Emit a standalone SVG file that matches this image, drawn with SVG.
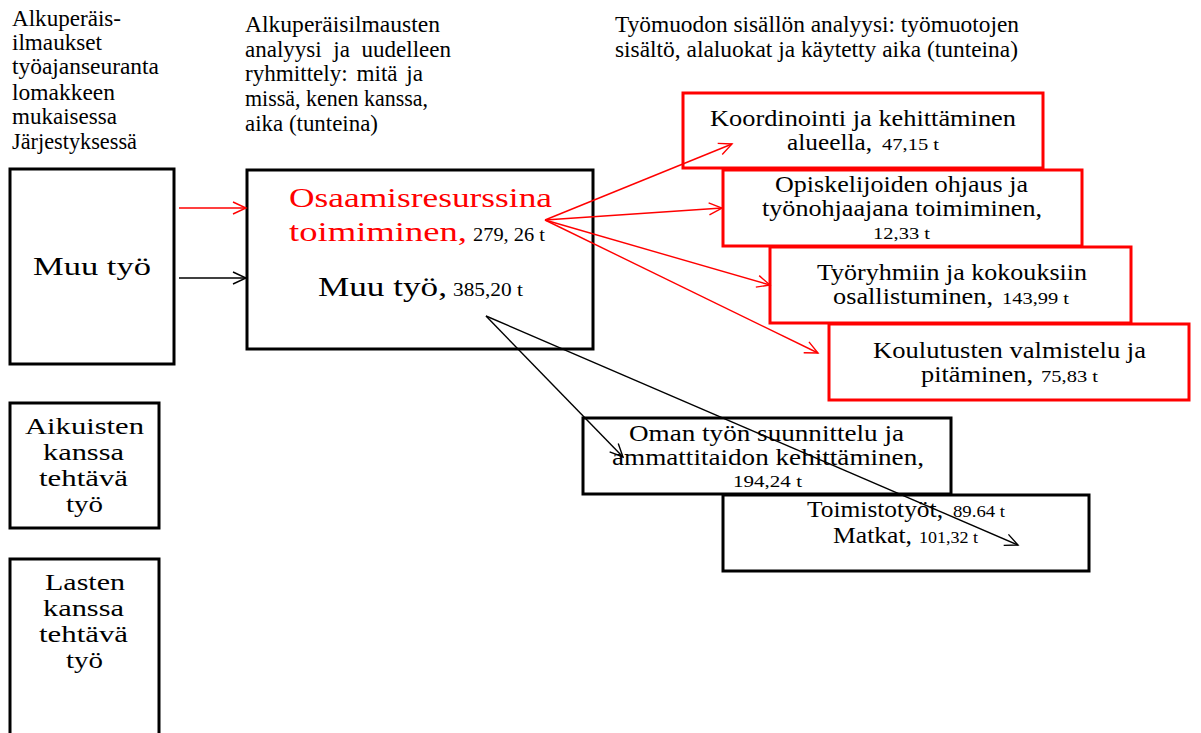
<svg xmlns="http://www.w3.org/2000/svg" width="1201" height="733" viewBox="0 0 1201 733">
  <style>
    text { font-family: "Liberation Serif", "Times New Roman", serif; fill: #000; }
    .hd { font-size: 23.5px; }
    .bx { font-size: 22.5px; }
    .lt { font-size: 22.5px; }
    .num { font-size: 17.5px; }
    .red { fill: #ff0000; }
    .nb { fill: #fff; stroke: #000; stroke-width: 3; }
    .nr { fill: #fff; stroke: #ff0000; stroke-width: 3; }
    .cr { stroke: #ff0000; stroke-width: 1.4; fill: none; marker-end: url(#ahr); }
    .ck { stroke: #000; stroke-width: 1.4; fill: none; marker-end: url(#ahk); }
  </style>
  <defs>
    <marker id="ahr" markerUnits="userSpaceOnUse" markerWidth="16" markerHeight="16" viewBox="-14 -8 16 16" refX="0" refY="0" orient="auto">
      <path d="M-13,-6 L0,0 L-13,6" fill="none" stroke="#ff0000" stroke-width="1.4"/>
    </marker>
    <marker id="ahk" markerUnits="userSpaceOnUse" markerWidth="16" markerHeight="16" viewBox="-14 -8 16 16" refX="0" refY="0" orient="auto">
      <path d="M-13,-6 L0,0 L-13,6" fill="none" stroke="#000" stroke-width="1.4"/>
    </marker>
  </defs>
  <rect width="1201" height="733" fill="#fff"/>

  <!-- column headings -->
  <g id="heading-original">
    <text class="hd" x="12" y="26" textLength="109" lengthAdjust="spacingAndGlyphs">Alkuperäis-</text>
    <text class="hd" x="12" y="50" textLength="90" lengthAdjust="spacingAndGlyphs">ilmaukset</text>
    <text class="hd" x="12" y="74" textLength="147" lengthAdjust="spacingAndGlyphs">työajanseuranta</text>
    <text class="hd" x="12" y="100" textLength="103" lengthAdjust="spacingAndGlyphs">lomakkeen</text>
    <text class="hd" x="12" y="124" textLength="105" lengthAdjust="spacingAndGlyphs">mukaisessa</text>
    <text class="hd" x="12" y="149" textLength="125" lengthAdjust="spacingAndGlyphs">Järjestyksessä</text>
  </g>
  <g id="heading-analysis">
    <text class="hd" x="245" y="32" textLength="195" lengthAdjust="spacingAndGlyphs">Alkuperäisilmausten</text>
    <text class="hd" x="245" y="57" textLength="206" lengthAdjust="spacingAndGlyphs" word-spacing="6">analyysi ja uudelleen</text>
    <text class="hd" x="245" y="81" textLength="178" lengthAdjust="spacingAndGlyphs" word-spacing="3">ryhmittely: mitä ja</text>
    <text class="hd" x="245" y="106" textLength="183" lengthAdjust="spacingAndGlyphs">missä, kenen kanssa,</text>
    <text class="hd" x="245" y="131" textLength="133" lengthAdjust="spacingAndGlyphs">aika (tunteina)</text>
  </g>
  <g id="heading-content">
    <text class="hd" x="615" y="32" textLength="404" lengthAdjust="spacingAndGlyphs">Työmuodon sisällön analyysi: työmuotojen</text>
    <text class="hd" x="615" y="57" textLength="403" lengthAdjust="spacingAndGlyphs">sisältö, alaluokat  ja käytetty aika (tunteina)</text>
  </g>

  <!-- original categories -->
  <g id="node-muu-tyo">
    <rect class="nb" x="10" y="169" width="164" height="195"/>
    <text x="33" y="275" font-size="25" textLength="118" lengthAdjust="spacingAndGlyphs">Muu työ</text>
  </g>
  <g id="node-aikuisten">
    <rect class="nb" x="10" y="403" width="149" height="125"/>
    <text class="lt" x="25" y="434" textLength="119" lengthAdjust="spacingAndGlyphs">Aikuisten</text>
    <text class="lt" x="43" y="460" textLength="81" lengthAdjust="spacingAndGlyphs">kanssa</text>
    <text class="lt" x="39" y="486" textLength="89" lengthAdjust="spacingAndGlyphs">tehtävä</text>
    <text class="lt" x="66" y="512" textLength="37" lengthAdjust="spacingAndGlyphs">työ</text>
  </g>
  <g id="node-lasten">
    <rect class="nb" x="10" y="559" width="149" height="190"/>
    <text class="lt" x="45" y="590" textLength="80" lengthAdjust="spacingAndGlyphs">Lasten</text>
    <text class="lt" x="43" y="616" textLength="81" lengthAdjust="spacingAndGlyphs">kanssa</text>
    <text class="lt" x="39" y="642" textLength="89" lengthAdjust="spacingAndGlyphs">tehtävä</text>
    <text class="lt" x="66" y="668" textLength="37" lengthAdjust="spacingAndGlyphs">työ</text>
  </g>

  <!-- regrouped categories -->
  <g id="node-regrouped">
    <rect class="nb" x="247" y="170" width="346" height="179"/>
    <text class="red" x="289" y="207" font-size="28" textLength="263" lengthAdjust="spacingAndGlyphs">Osaamisresurssina</text>
    <text class="red" x="289" y="241" font-size="28" textLength="178" lengthAdjust="spacingAndGlyphs">toimiminen,</text>
    <text x="473" y="241" font-size="19" textLength="72" lengthAdjust="spacingAndGlyphs">279, 26 t</text>
    <text x="318" y="296" font-size="27" textLength="129" lengthAdjust="spacingAndGlyphs">Muu työ,</text>
    <text x="453" y="296" font-size="18" textLength="70" lengthAdjust="spacingAndGlyphs">385,20 t</text>
  </g>

  <!-- subcategories: competence resource -->
  <g id="node-koordinointi">
    <rect class="nr" x="683" y="93" width="360" height="75"/>
    <text class="bx" x="710" y="126" textLength="306" lengthAdjust="spacingAndGlyphs">Koordinointi ja kehittäminen</text>
    <text class="bx" x="787" y="150" textLength="85" lengthAdjust="spacingAndGlyphs">alueella,</text>
    <text class="num" x="882" y="150" textLength="57" lengthAdjust="spacingAndGlyphs">47,15 t</text>
  </g>
  <g id="node-opiskelijoiden">
    <rect class="nr" x="723" y="170" width="359" height="76"/>
    <text class="bx" x="775" y="192" textLength="253" lengthAdjust="spacingAndGlyphs">Opiskelijoiden ohjaus ja</text>
    <text class="bx" x="762" y="216" textLength="280" lengthAdjust="spacingAndGlyphs">työnohjaajana toimiminen,</text>
    <text class="num" x="873" y="239" textLength="57" lengthAdjust="spacingAndGlyphs">12,33 t</text>
  </g>
  <g id="node-tyoryhmiin">
    <rect class="nr" x="770" y="247" width="361" height="76"/>
    <text class="bx" x="817" y="280" textLength="270" lengthAdjust="spacingAndGlyphs">Työryhmiin ja kokouksiin</text>
    <text class="bx" x="833" y="304" textLength="160" lengthAdjust="spacingAndGlyphs">osallistuminen,</text>
    <text class="num" x="1002" y="304" textLength="67" lengthAdjust="spacingAndGlyphs">143,99 t</text>
  </g>
  <g id="node-koulutusten">
    <rect class="nr" x="829" y="324" width="360" height="76"/>
    <text class="bx" x="873" y="358" textLength="273" lengthAdjust="spacingAndGlyphs">Koulutusten valmistelu ja</text>
    <text class="bx" x="921" y="382" textLength="112" lengthAdjust="spacingAndGlyphs">pitäminen,</text>
    <text class="num" x="1041" y="382" textLength="57" lengthAdjust="spacingAndGlyphs">75,83 t</text>
  </g>

  <!-- subcategories: other work -->
  <g id="node-oman-tyon">
    <rect class="nb" x="583" y="418" width="368" height="76"/>
    <text class="bx" x="629" y="441" textLength="275" lengthAdjust="spacingAndGlyphs">Oman työn suunnittelu ja</text>
    <text class="bx" x="612" y="465" textLength="312" lengthAdjust="spacingAndGlyphs">ammattitaidon kehittäminen,</text>
    <text class="num" x="733" y="487" textLength="69" lengthAdjust="spacingAndGlyphs">194,24 t</text>
  </g>
  <g id="node-toimistotyot">
    <rect class="nb" x="723" y="495" width="366" height="76"/>
    <text class="bx" x="807" y="517" textLength="136" lengthAdjust="spacingAndGlyphs">Toimistotyöt,</text>
    <text x="953" y="517" font-size="16" textLength="52" lengthAdjust="spacingAndGlyphs">89.64 t</text>
    <text class="bx" x="833" y="543" textLength="79" lengthAdjust="spacingAndGlyphs">Matkat,</text>
    <text x="919" y="543" font-size="16" textLength="59" lengthAdjust="spacingAndGlyphs">101,32 t</text>
  </g>

  <!-- connectors -->
  <g id="connectors">
    <line class="cr" x1="179" y1="208" x2="246" y2="208"/>
    <line class="ck" x1="179" y1="278" x2="246" y2="278"/>
    <line class="cr" x1="545" y1="220" x2="732" y2="144"/>
    <line class="cr" x1="545" y1="220" x2="722" y2="208"/>
    <line class="cr" x1="545" y1="220" x2="770" y2="285"/>
    <line class="cr" x1="545" y1="220" x2="818" y2="353"/>
    <line class="ck" x1="486" y1="316" x2="623" y2="457"/>
    <line class="ck" x1="486" y1="316" x2="1018" y2="545"/>
  </g>
</svg>
